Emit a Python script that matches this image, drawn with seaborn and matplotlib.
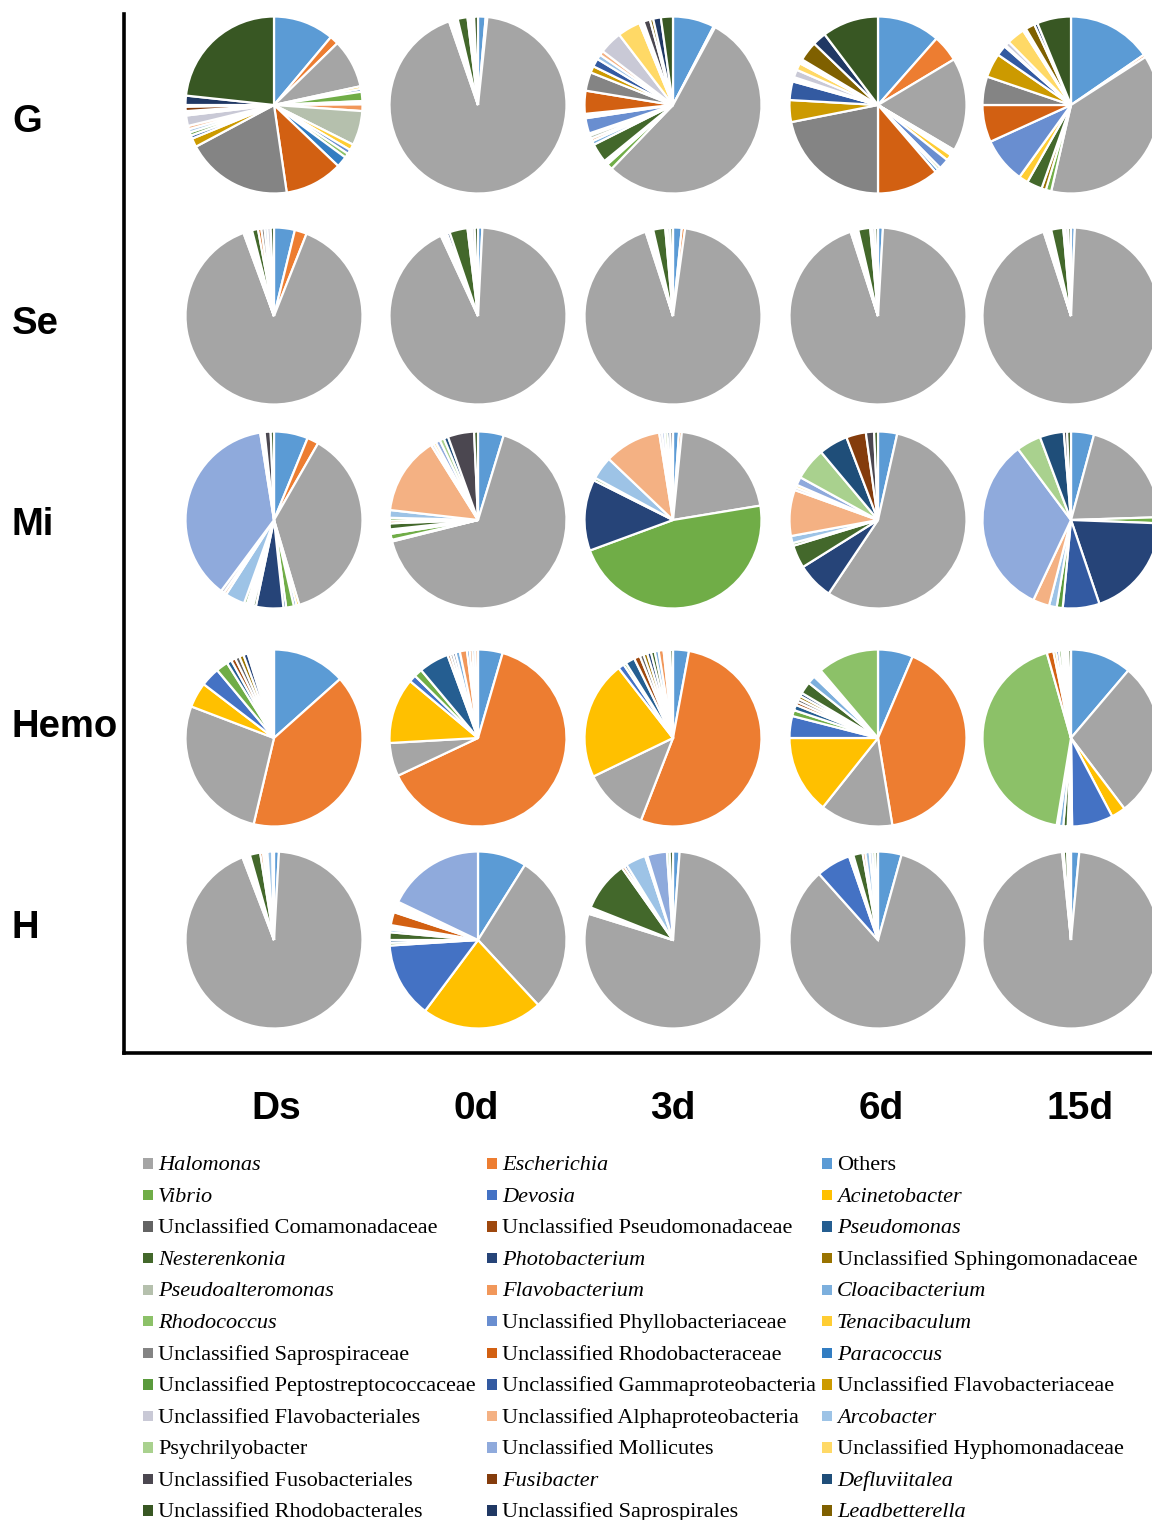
import matplotlib
matplotlib.use("Agg")
import matplotlib.pyplot as plt
from matplotlib.patches import Rectangle
from matplotlib import font_manager as fm
import seaborn as sns

# ---------------- taxa (series order = clockwise drawing order) ----------------
CODES = ["OTH", "ESC", "HAL", "ACI", "DEV", "VIB", "PSE", "uPSD", "uCOM", "uSPH",
         "PHO", "NES", "CLO", "FLA", "PSA", "TEN", "uPHY", "RHO", "PAR", "uRBA",
         "uSAP", "uFLV", "uGAM", "uPEP", "ARC", "uALP", "uFLB", "uHYP", "uMOL", "PSY",
         "DEF", "FUS", "uFUS", "LEA", "uSPR", "uRBL"]
NAMES = ["Others", "Escherichia", "Halomonas", "Acinetobacter", "Devosia", "Vibrio",
         "Pseudomonas", "Unclassified Pseudomonadaceae", "Unclassified Comamonadaceae",
         "Unclassified Sphingomonadaceae", "Photobacterium", "Nesterenkonia",
         "Cloacibacterium", "Flavobacterium", "Pseudoalteromonas", "Tenacibaculum",
         "Unclassified Phyllobacteriaceae", "Rhodococcus", "Paracoccus",
         "Unclassified Rhodobacteraceae", "Unclassified Saprospiraceae",
         "Unclassified Flavobacteriaceae", "Unclassified Gammaproteobacteria",
         "Unclassified Peptostreptococcaceae", "Arcobacter",
         "Unclassified Alphaproteobacteria", "Unclassified Flavobacteriales",
         "Unclassified Hyphomonadaceae", "Unclassified Mollicutes", "Psychrilyobacter",
         "Defluviitalea", "Fusibacter", "Unclassified Fusobacteriales", "Leadbetterella",
         "Unclassified Saprospirales", "Unclassified Rhodobacterales"]
HEX = ["#5B9BD5", "#ED7D31", "#A5A5A5", "#FFC000", "#4472C4", "#70AD47",
       "#255E91", "#9E480E", "#636363", "#997300", "#264478", "#43682B",
       "#7CAFDD", "#F1975A", "#B5C0AD", "#FFCD33", "#698ED0", "#8CC168",
       "#327DC2", "#D26012", "#848484", "#CC9A00", "#335AA1", "#5A9A3C",
       "#9DC3E6", "#F4B183", "#C9C9D6", "#FFD966", "#8FAADC", "#A9D18E",
       "#1F4E79", "#843C0C", "#4B4750", "#7F6000", "#203864", "#385723"]
ITALIC = {"Escherichia", "Halomonas", "Acinetobacter", "Devosia", "Vibrio", "Pseudomonas",
          "Photobacterium", "Nesterenkonia", "Cloacibacterium", "Flavobacterium",
          "Pseudoalteromonas", "Tenacibaculum", "Rhodococcus", "Paracoccus", "Arcobacter",
          "Defluviitalea", "Fusibacter", "Leadbetterella"}

ROWS = ["G", "Se", "Mi", "Hemo", "H"]
COLS = ["Ds", "0d", "3d", "6d", "15d"]

# ---------------- relative abundance (%) per pie ----------------
G_Ds = dict(OTH=11.1, ESC=1.6, HAL=8.9, ACI=0.5, DEV=0.5, VIB=1.7, PSE=0.3, PHO=0.3,
            FLA=1.2, PSA=6.3, TEN=1.1, uPHY=0.8, RHO=0.8, PAR=2.0, uRBA=10.6, uSAP=19.5,
            uFLV=1.6, uGAM=0.6, uPEP=0.6, ARC=0.6, uALP=0.6, uFLB=1.9, uHYP=0.4,
            uMOL=0.4, FUS=0.8, LEA=0.3, uSPR=1.7, uRBL=23.3)
G_0d = dict(OTH=1.4, ESC=0.3, HAL=93.0, DEV=0.4, VIB=0.4, PSE=0.4, PHO=0.4, NES=1.8,
            uRBA=0.4, uSAP=0.4, uFLB=0.4, uRBL=0.7)
G_3d = dict(OTH=7.6, ESC=0.3, HAL=54.3, VIB=1.1, PSE=0.4, PHO=0.4, NES=3.5, CLO=0.7,
            FLA=0.5, PSA=0.6, TEN=0.4, uPHY=2.8, RHO=0.4, PAR=0.4, uRBA=4.2, uSAP=3.4,
            uFLV=1.2, uGAM=1.5, ARC=0.9, uALP=0.8, uFLB=4.2, uHYP=4.2, uMOL=0.4,
            PSY=0.4, uFUS=1.2, LEA=0.6, uSPR=1.4, uRBL=2.2)
G_6d = dict(OTH=11.5, ESC=4.9, HAL=17.1, DEV=0.3, PSE=0.3, uCOM=0.2, CLO=0.3, TEN=1.1,
            uPHY=1.9, RHO=0.5, PAR=0.6, uRBA=11.3, uSAP=21.9, uFLV=4.0, uGAM=3.4,
            uPEP=0.3, ARC=0.3, uALP=0.2, uFLB=1.4, uHYP=1.3, uMOL=0.2, DEF=0.3,
            uFUS=0.3, LEA=3.6, uSPR=2.5, uRBL=10.3)
G_15d = dict(OTH=15.4, ESC=0.5, HAL=37.7, VIB=1.0, uSPH=0.8, NES=2.8, TEN=1.7,
             uPHY=8.3, uRBA=6.8, uSAP=5.2, uFLV=4.4, uGAM=1.9, ARC=0.3, uFLB=0.8,
             uHYP=3.3, uMOL=0.3, DEF=0.3, LEA=1.7, uSPR=0.6, uRBL=6.2)

Se_Ds = dict(OTH=3.8, ESC=2.2, HAL=88.4, ACI=0.3, DEV=0.3, VIB=0.4, PSE=0.3, PHO=0.3,
             NES=1.1, uRBA=0.6, uSAP=0.6, ARC=0.5, uFLB=0.6, uRBL=0.6)
Se_0d = dict(OTH=0.8, HAL=92.3, DEV=0.4, VIB=0.4, PSE=0.4, PHO=0.5, NES=3.3, uRBA=0.4,
             ARC=0.4, uFLB=0.5, uRBL=0.6)
Se_3d = dict(OTH=1.6, ESC=0.6, HAL=92.8, DEV=0.3, VIB=0.4, PSE=0.3, PHO=0.4, NES=2.2,
             uRBA=0.4, uFLB=0.5, uRBL=0.5)
Se_6d = dict(OTH=0.9, HAL=94.1, DEV=0.3, VIB=0.3, PSE=0.4, PHO=0.4, NES=2.2, uRBA=0.4,
             uFLB=0.5, uRBL=0.5)
Se_15d = dict(OTH=0.7, HAL=94.3, DEV=0.3, VIB=0.3, PSE=0.4, PHO=0.4, NES=2.2, uRBA=0.4,
              uFLB=0.5, uRBL=0.5)

Mi_Ds = dict(OTH=6.2, ESC=2.1, HAL=37.1, ACI=0.5, DEV=0.5, VIB=1.4, PSE=0.5, PHO=5.0,
             NES=0.5, FLA=0.4, PSA=0.4, uRBA=0.4, uPEP=0.5, ARC=3.6, uALP=0.5, uFLB=0.6,
             uMOL=37.3, PSY=0.4, DEF=0.4, uFUS=1.1, uRBL=0.6)
Mi_0d = dict(OTH=4.7, HAL=66.4, ACI=0.3, VIB=1.1, PSE=0.4, PHO=0.4, NES=1.1, uRBA=0.5,
             uPEP=0.5, ARC=1.4, uALP=14.3, uFLB=0.5, uHYP=0.5, uMOL=0.8, PSY=0.8,
             DEF=0.8, uFUS=4.8, uRBL=0.7)
Mi_3d = dict(OTH=1.1, ESC=0.5, HAL=20.8, VIB=47.0, PHO=13.0, uPEP=0.5, ARC=4.2,
             uALP=10.4, uFLB=0.5, uMOL=0.5, PSY=0.5, DEF=0.5, uFUS=0.5)
Mi_6d = dict(OTH=3.5, HAL=55.9, PHO=6.7, NES=4.2, uPEP=0.5, ARC=1.3, uALP=8.4,
             uFLB=0.5, uHYP=0.5, uMOL=1.5, PSY=5.9, DEF=5.3, FUS=3.6, uFUS=1.5, uRBL=0.7)
Mi_15d = dict(OTH=4.2, HAL=20.3, VIB=1.1, PHO=19.2, uGAM=6.7, uPEP=1.1, ARC=1.4,
              uALP=3.0, uMOL=32.8, PSY=4.5, DEF=4.4, uFUS=0.6, uRBL=0.7)

Hemo_Ds = dict(OTH=13.4, ESC=40.3, HAL=27.1, ACI=4.6, DEV=3.5, VIB=2.2, PSE=0.9,
               uPSD=0.8, uCOM=0.8, uSPH=0.8, PHO=0.8, NES=0.4, CLO=0.4, FLA=0.4,
               RHO=0.4, PAR=0.4, uRBA=0.4, uPEP=0.4, ARC=0.4, uALP=0.4, uMOL=0.4,
               FUS=0.4, uRBL=0.4)
Hemo_0d = dict(OTH=4.5, ESC=63.5, HAL=6.1, ACI=12.0, DEV=1.3, VIB=1.5, PSE=5.5,
               uPSD=0.5, uCOM=0.5, PHO=0.5, CLO=0.8, FLA=1.3, PAR=0.5, uRBA=0.5,
               ARC=0.5, uALP=0.5)
Hemo_3d = dict(OTH=2.9, ESC=52.9, HAL=11.9, ACI=21.6, DEV=1.1, VIB=0.5, PSE=1.7,
               uPSD=1.1, uCOM=0.7, uSPH=0.7, PHO=0.7, NES=0.7, CLO=0.7, FLA=0.9,
               PAR=0.4, uRBA=0.4, uALP=0.4, uRBL=0.5)
Hemo_6d = dict(OTH=6.4, ESC=41.0, HAL=13.3, ACI=14.3, DEV=4.0, VIB=1.1, PSE=1.0,
               uPSD=0.6, uCOM=0.6, uSPH=0.6, PHO=0.6, NES=2.2, CLO=1.5, FLA=0.4,
               PSA=0.4, TEN=0.4, uPHY=0.4, RHO=11.2)
Hemo_15d = dict(OTH=11.2, HAL=28.5, ACI=2.6, DEV=7.5, VIB=0.4, PSE=0.4, NES=0.8,
                CLO=0.8, TEN=0.4, RHO=43.0, uRBA=1.2, uFLV=0.5, uGAM=0.5, uPEP=0.5,
                ARC=0.4, uMOL=0.4, FUS=0.4, uRBL=0.5)

H_Ds = dict(OTH=0.9, HAL=93.3, DEV=0.4, VIB=0.4, PSE=0.3, PHO=0.3, NES=1.9, uRBA=0.5,
            uSAP=0.4, uPEP=0.4, ARC=0.9, uMOL=0.3)
H_0d = dict(OTH=8.9, HAL=29.2, ACI=22.1, DEV=13.8, VIB=0.5, PSE=0.5, NES=1.4, CLO=0.5,
            FLA=0.4, PAR=0.4, uRBA=2.4, uSAP=0.4, uFLV=0.4, uGAM=0.4, ARC=0.4,
            uALP=0.4, uMOL=17.9)
H_3d = dict(OTH=1.2, HAL=78.6, DEV=0.4, VIB=0.4, PHO=0.4, NES=9.2, uRBA=0.5, uGAM=0.5,
            ARC=3.7, uALP=0.4, uMOL=3.6, PSY=0.5, uRBL=0.6)
H_6d = dict(OTH=4.3, HAL=84.1, DEV=6.3, VIB=0.4, PSE=0.4, NES=1.7, uRBA=0.5, ARC=0.8,
            uMOL=0.5, PSY=0.5, uRBL=0.5)
H_15d = dict(OTH=1.5, HAL=96.9, DEV=0.3, NES=0.6, ARC=0.3, uRBL=0.4)

PIES = {
    "G": [G_Ds, G_0d, G_3d, G_6d, G_15d],
    "Se": [Se_Ds, Se_0d, Se_3d, Se_6d, Se_15d],
    "Mi": [Mi_Ds, Mi_0d, Mi_3d, Mi_6d, Mi_15d],
    "Hemo": [Hemo_Ds, Hemo_0d, Hemo_3d, Hemo_6d, Hemo_15d],
    "H": [H_Ds, H_0d, H_3d, H_6d, H_15d],
}

# ---------------- styling ----------------
sns.set_theme(style="white")
plt.rcParams['font.family'] = ['Liberation Sans', 'DejaVu Sans']
plt.rcParams['text.color'] = 'black'
PAL = sns.color_palette(HEX)

W, H = 1152, 1520
fig = plt.figure(figsize=(W / 100, H / 100), dpi=100)
fig.patch.set_facecolor("white")


def px_axes(x0, y0, w, h):
    return fig.add_axes([x0 / W, 1 - (y0 + h) / H, w / W, h / H])


def fx(x):
    return x / W


def fy(y):
    return 1 - y / H


def has_font(name):
    try:
        fm.findfont(fm.FontProperties(family=name), fallback_to_default=False)
        return True
    except Exception:
        return False


# L-shaped frame
frame = px_axes(124, 14, W - 124 + 20, 1053 - 14)
frame.set_xticks([])
frame.set_yticks([])
frame.set_facecolor("none")
for s in ["top", "right"]:
    frame.spines[s].set_visible(False)
for s in ["left", "bottom"]:
    frame.spines[s].set_color("black")
    frame.spines[s].set_linewidth(2.6)

# pies
CX = [274, 478, 673, 878, 1071]
CY = [105, 316, 520, 738, 940]
R = 88.5
for r, row in enumerate(ROWS):
    for c, col in enumerate(COLS):
        d = PIES[row][c]
        vals, cols = [], []
        for i, code in enumerate(CODES):
            v = d.get(code, 0)
            if v > 0:
                vals.append(v)
                cols.append(PAL[i])
        ax = px_axes(CX[c] - R, CY[r] - R, 2 * R, 2 * R)
        ax.pie(vals, colors=cols, startangle=90, counterclock=False, normalize=True,
               wedgeprops=dict(edgecolor="white", linewidth=1.6))
        ax.set_xlim(-1.0, 1.0)
        ax.set_ylim(-1.0, 1.0)
        ax.set_aspect("equal")
        ax.axis("off")

# row labels
ROW_BASE = [132, 334, 535, 737, 938]
for lab, yb in zip(ROWS, ROW_BASE):
    fig.text(fx(12), fy(yb), lab, fontsize=27.5, fontweight="heavy", color="black",
             family=["Liberation Sans", "DejaVu Sans"], ha="left", va="baseline")

# column labels
COL_X = [276, 476, 673, 881, 1080]
if has_font("Liberation Sans Narrow"):
    col_family, col_size = ["Liberation Sans Narrow", "Liberation Sans"], 32
else:
    col_family, col_size = ["Liberation Sans", "DejaVu Sans"], 28
for lab, x in zip(COLS, COL_X):
    fig.text(fx(x), fy(1119), lab, fontsize=col_size, fontweight="bold", color="black",
             family=col_family, ha="center", va="baseline")

# legend (row-major, 3 columns; each legend row lists a series triple in reverse)
SQ_X = [143, 487, 822]
TX_X = [158, 502, 837]
ROW0, PITCH = 1163.5, 31.55
for k in range(12):
    triple = [3 * k + 2, 3 * k + 1, 3 * k]
    y = ROW0 + k * PITCH
    for j, idx in enumerate(triple):
        fig.add_artist(Rectangle((fx(SQ_X[j]), fy(y + 5.2)), 10.4 / W, 10.4 / H,
                                 transform=fig.transFigure, facecolor=PAL[idx],
                                 edgecolor="none"))
        name = NAMES[idx]
        fig.text(fx(TX_X[j]), fy(y + 6.8), name, fontsize=16,
                 family=["Liberation Serif", "DejaVu Serif"],
                 style="italic" if name in ITALIC else "normal",
                 ha="left", va="baseline", color="black")

fig.savefig("out.png", dpi=100, facecolor="white")
